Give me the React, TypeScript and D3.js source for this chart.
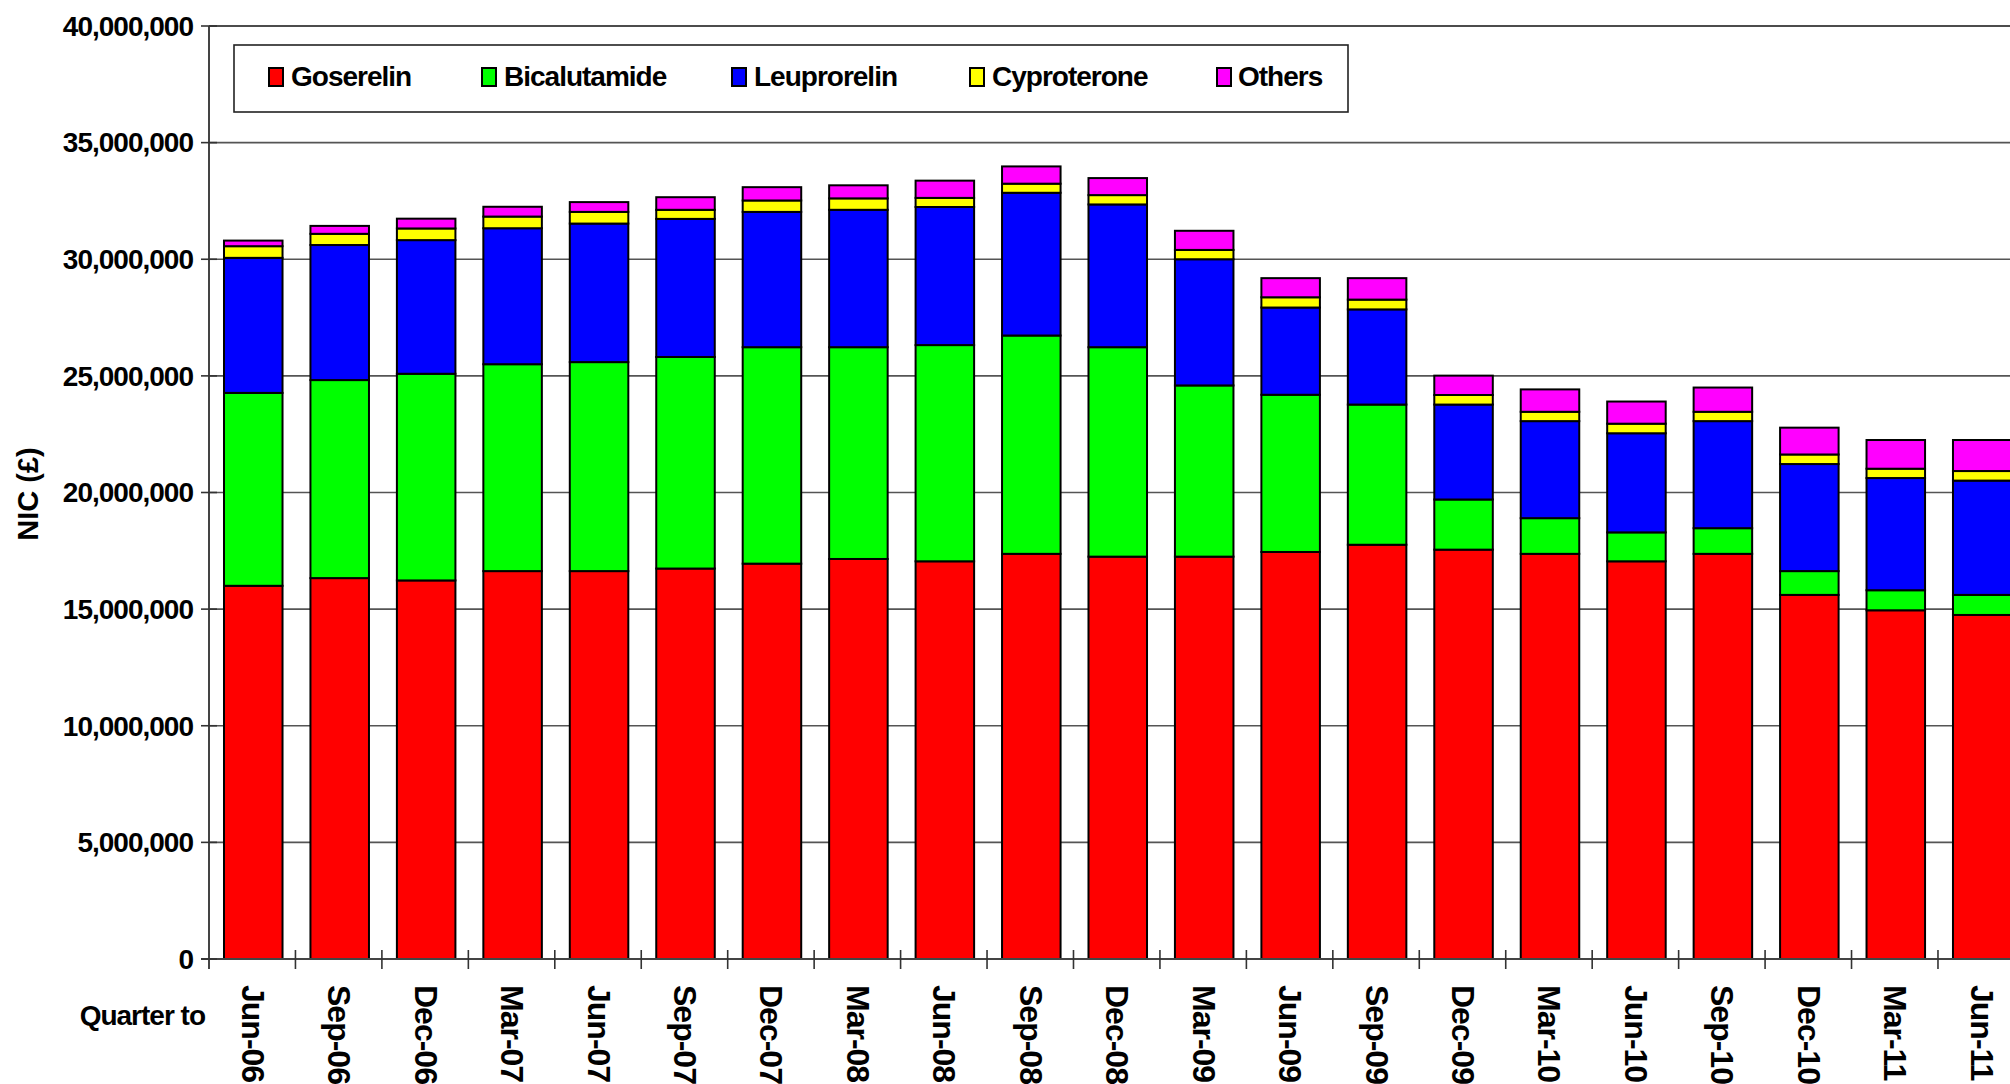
import React from "react";
import * as d3 from "d3";

const categories = [
  "Jun-06", "Sep-06", "Dec-06", "Mar-07", "Jun-07", "Sep-07", "Dec-07",
  "Mar-08", "Jun-08", "Sep-08", "Dec-08", "Mar-09", "Jun-09", "Sep-09",
  "Dec-09", "Mar-10", "Jun-10", "Sep-10", "Dec-10", "Mar-11", "Jun-11",
];

// values in £ millions
const goserelin = [16.0, 16.33, 16.23, 16.63, 16.63, 16.74, 16.95, 17.15, 17.05, 17.37, 17.25, 17.25, 17.45, 17.76, 17.55, 17.37, 17.05, 17.37, 15.61, 14.95, 14.75];
const bicalutamide = [8.27, 8.49, 8.86, 8.87, 8.96, 9.07, 9.28, 9.08, 9.27, 9.36, 8.98, 7.34, 6.74, 6.01, 2.15, 1.53, 1.24, 1.10, 1.02, 0.86, 0.86];
const leuprorelin = [5.79, 5.79, 5.73, 5.83, 5.94, 5.92, 5.80, 5.89, 5.92, 6.12, 6.12, 5.41, 3.74, 4.08, 4.07, 4.16, 4.25, 4.59, 4.59, 4.81, 4.90];
const cyproterone = [0.50, 0.48, 0.50, 0.50, 0.50, 0.39, 0.49, 0.49, 0.39, 0.39, 0.40, 0.40, 0.44, 0.42, 0.41, 0.40, 0.41, 0.40, 0.41, 0.40, 0.41];
const others = [0.24, 0.34, 0.42, 0.42, 0.42, 0.54, 0.57, 0.56, 0.74, 0.74, 0.73, 0.82, 0.82, 0.92, 0.83, 0.96, 0.95, 1.04, 1.15, 1.23, 1.33];

const seriesNames = ["Goserelin", "Bicalutamide", "Leuprorelin", "Cyproterone", "Others"];
const seriesColors = ["#FF0000", "#00FF00", "#0000FF", "#FFFF00", "#FF00FF"];
const seriesValues = [goserelin, bicalutamide, leuprorelin, cyproterone, others];

const yTicks = [0, 5e6, 10e6, 15e6, 20e6, 25e6, 30e6, 35e6, 40e6];

const W = 2010;
const H = 1084;
const FONT = "'Liberation Sans', Arial, sans-serif";

export default function App() {
  const y = d3.scaleLinear().domain([0, 40e6]).range([959, 26]);
  const x = d3
    .scaleBand<string>()
    .domain(categories)
    .range([209, 2026.5])
    .paddingInner(0.323)
    .paddingOuter(0.1735);
  const step = x.step();
  const x0 = 209;

  const table = categories.map((c, i) => {
    const row: any = { cat: c };
    seriesNames.forEach((s, j) => (row[s] = seriesValues[j][i] * 1e6));
    return row;
  });
  const stacked = d3.stack().keys(seriesNames)(table as any);
  const fmt = d3.format(",");

  const legendItems = [
    { sx: 269, tx: 291 },
    { sx: 482, tx: 504 },
    { sx: 732, tx: 754 },
    { sx: 970, tx: 992 },
    { sx: 1217, tx: 1238 },
  ];

  return (
    <svg
      width={W}
      height={H}
      style={{ position: "absolute", left: 0, top: 0, background: "#fff" }}
      fontFamily={FONT}
      fontWeight="bold"
    >
      <rect x={0} y={0} width={W} height={H} fill="#fff" />
      {/* gridlines */}
      {yTicks.slice(1).map((t) => (
        <line
          key={"g" + t}
          x1={x0}
          x2={W}
          y1={y(t)}
          y2={y(t)}
          stroke={t === 40e6 ? "#111" : "#555"}
          strokeWidth={1.6}
        />
      ))}
      {/* bars */}
      {stacked.map((layer, j) => (
        <g key={layer.key}>
          {layer.map((d, i) => (
            <rect
              key={i}
              x={x(categories[i])}
              y={y(d[1])}
              width={x.bandwidth()}
              height={y(d[0]) - y(d[1])}
              fill={seriesColors[j]}
              stroke="#000"
              strokeWidth={2}
            />
          ))}
        </g>
      ))}
      {/* axes */}
      <line x1={x0} x2={x0} y1={y(40e6)} y2={y(0) + 10} stroke="#444" strokeWidth={2} />
      <line x1={x0 - 8} x2={W} y1={y(0)} y2={y(0)} stroke="#444" strokeWidth={2} />
      {yTicks.map((t) => (
        <g key={"yt" + t}>
          <line x1={x0 - 8} x2={x0 + 8} y1={y(t)} y2={y(t)} stroke="#333" strokeWidth={1.6} />
          <text
            x={193}
            y={y(t)}
            dy="0.35em"
            textAnchor="end"
            fontSize={28}
            letterSpacing={-1}
            fill="#000"
          >
            {fmt(t)}
          </text>
        </g>
      ))}
      {categories.map((c, i) => (
        <line
          key={"xt" + c}
          x1={x0 + step * (i + 1)}
          x2={x0 + step * (i + 1)}
          y1={y(0) - 9}
          y2={y(0) + 10}
          stroke="#333"
          strokeWidth={1.6}
        />
      ))}
      {categories.map((c) => (
        <text
          key={"xl" + c}
          transform={`translate(${(x(c) as number) + x.bandwidth() / 2},985) rotate(90)`}
          y={11.5}
          fontSize={32}
          letterSpacing={-1}
          fill="#000"
        >
          {c}
        </text>
      ))}
      <text x={205} y={1025} textAnchor="end" fontSize={28} letterSpacing={-1} fill="#000">
        Quarter to
      </text>
      <text
        transform="translate(38,494) rotate(-90)"
        textAnchor="middle"
        fontSize={29}
        fill="#000"
      >
        NIC (£)
      </text>
      {/* legend */}
      <rect x={234} y={45} width={1114} height={67} fill="#fff" stroke="#222" strokeWidth={1.6} />
      {seriesNames.map((s, j) => (
        <g key={"lg" + s}>
          <rect
            x={legendItems[j].sx}
            y={68}
            width={14}
            height={18}
            fill={seriesColors[j]}
            stroke="#000"
            strokeWidth={2}
          />
          <text x={legendItems[j].tx} y={86} fontSize={28} letterSpacing={-1} fill="#000">
            {s}
          </text>
        </g>
      ))}
    </svg>
  );
}
